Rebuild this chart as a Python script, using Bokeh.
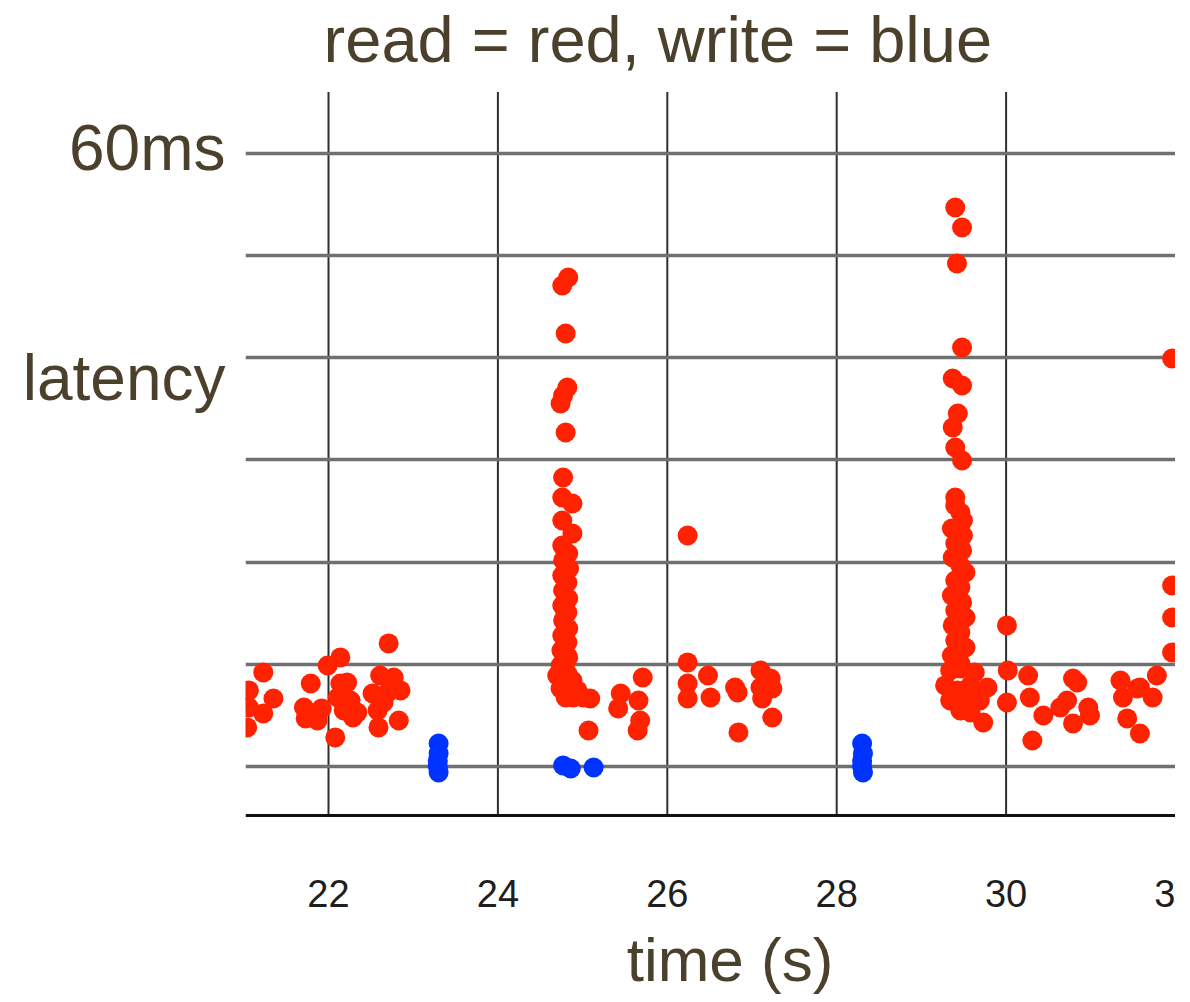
from bokeh.plotting import figure
from bokeh.models import FixedTicker, Range1d, Label
from bokeh.core.properties import value
from bokeh.embed import file_html
from bokeh.resources import INLINE

# ---- data (time in s, latency in ms) ----
read_time = [
    # cluster around 22 s
    21.06, 21.06, 21.04, 21.23, 21.23, 21.35, 21.79, 21.71, 21.73, 21.99,
    22.14, 21.87, 21.92, 22.08, 22.14, 22.22, 22.11, 22.26, 22.18, 22.34,
    22.29, 22.71, 22.61, 22.77, 22.52, 22.85, 22.70, 22.58, 22.59, 22.83,
    22.65,
    # spike near 24.8 s
    24.83, 24.76, 24.80, 24.82, 24.74, 24.77, 24.80, 24.77, 24.76, 24.88,
    24.76, 24.88,
    24.76, 24.83, 24.77, 24.84, 24.76, 24.82, 24.77, 24.83, 24.76, 24.82,
    24.77, 24.83, 24.76, 24.82, 24.75, 24.83, 24.74, 24.82, 24.70, 24.88,
    24.74, 24.94, 24.80, 25.01, 25.09, 24.89, 25.07,
    # after spike 1
    25.71, 25.45, 25.42, 25.66, 25.68, 25.65,
    # cluster around 26-27 s
    26.24, 26.24, 26.24, 26.24, 26.48, 26.51, 26.80, 26.83, 26.84, 27.10,
    27.22, 27.10, 27.24, 27.12, 27.24,
    # spike near 29.4 s
    29.40, 29.48, 29.42, 29.48, 29.37, 29.48, 29.43, 29.37, 29.40, 29.48,
    29.40, 29.49,
    29.40, 29.46, 29.36, 29.49, 29.40, 29.48, 29.37, 29.46, 29.52, 29.40,
    29.46, 29.36, 29.48, 29.40, 29.52, 29.37, 29.46, 29.40, 29.52, 29.36,
    29.46,
    29.34, 29.46, 29.63, 29.28, 29.43, 29.58, 29.78, 29.34, 29.52, 29.69,
    29.46, 29.58, 29.73,
    # after spike 2
    30.01, 30.02, 30.01, 30.26, 30.28, 30.31, 30.44, 30.64, 30.79, 30.84,
    30.72, 30.97, 30.99, 30.79,
    31.35, 31.38, 31.43, 31.58, 31.55, 31.78, 31.73, 31.58,
    31.96, 31.96, 31.96, 31.96,
]
read_latency = [
    7.44, 5.77, 3.82, 9.20, 5.19, 6.65, 8.12, 5.77, 4.70, 9.88,
    10.67, 4.50, 5.68, 2.84, 8.12, 8.22, 6.75, 6.46, 5.48, 5.28,
    4.79, 12.04, 8.90, 8.71, 7.14, 7.44, 7.24, 5.48, 3.82, 4.50,
    6.26,
    47.85, 47.06, 42.37, 37.08, 35.52, 36.30, 32.68, 28.28, 26.32, 25.73,
    24.07, 22.80,
    21.62, 20.84, 20.16, 19.37, 18.69, 18.00, 17.22, 16.44, 15.75, 15.07,
    14.29, 13.50, 12.82, 12.13, 11.35, 10.67, 9.88, 9.10, 8.90, 8.41,
    7.63, 7.44, 6.75, 6.75, 6.65, 6.75, 3.52,
    8.71, 7.14, 5.68, 6.46, 4.50, 3.52,
    22.60, 10.18, 8.12, 6.65, 8.90, 6.75, 7.73, 7.24, 3.33, 9.39,
    8.61, 7.73, 7.63, 6.65, 4.79,
    54.70, 52.74, 49.22, 41.00, 37.96, 37.28, 34.54, 33.17, 31.21, 29.94,
    26.32, 24.07,
    25.54, 24.85, 23.29, 22.60, 21.82, 21.14, 20.45, 19.67, 18.98, 18.20,
    17.51, 16.73, 16.05, 15.26, 14.58, 13.80, 13.11, 12.33, 11.64, 10.86,
    10.08,
    9.39, 9.59, 9.20, 7.93, 7.44, 7.93, 7.73, 6.46, 6.46, 6.46,
    5.48, 5.28, 4.30,
    13.80, 9.39, 6.26, 8.90, 6.75, 2.54, 4.99, 5.77, 8.61, 8.22,
    6.46, 5.77, 4.99, 4.21,
    8.41, 6.75, 4.70, 3.23, 7.63, 8.90, 6.75, 7.73,
    39.92, 17.71, 14.58, 11.15,
]
write_time = [23.30, 23.30, 23.29, 23.29, 23.30,
              24.77, 24.86, 25.13,
              28.30, 28.31, 28.30, 28.30, 28.31]
write_latency = [2.25, 1.27, 0.59, 0.00, -0.59,
                 0.10, -0.20, -0.10,
                 2.25, 1.27, 0.59, 0.00, -0.59]

x_ticks = [22, 24, 26, 28, 30, 32]
x_grid_ticks = [22, 24, 26, 28, 30]
y_grid_ticks = [0, 10, 20, 30, 40, 50, 60]
y_label_ticks = {60.5: "60ms", 38: "latency"}
title_text = "read = red, write = blue"
x_label_text = "time (s)"

TEXT = "#4a402c"
FONT = "Liberation Sans"

# layout bands in data units (frame spans the whole canvas height)
X_MIN, X_MAX = 21.02, 32.0
Y_MIN, Y_MAX = -22.9, 74.95
Y_AXIS, Y_GRID_TOP = -4.8, 66.0
Y_TICK_LABELS = -12.43
Y_TITLE, Y_XLABEL = 71.14, -18.84

p = figure(width=1175, height=1000,
           x_range=Range1d(X_MIN, X_MAX), y_range=Range1d(Y_MIN, Y_MAX),
           output_backend="svg", toolbar_location=None, title=None,
           x_axis_location=None,
           min_border_left=245, min_border_right=0,
           min_border_top=0, min_border_bottom=0)
p.outline_line_color = None
p.background_fill_color = "white"
p.border_fill_color = "white"

# horizontal grid (native)
p.ygrid.ticker = FixedTicker(ticks=y_grid_ticks)
p.ygrid.grid_line_color = "#707070"
p.ygrid.grid_line_width = 3.5
p.xgrid.visible = False

# vertical grid lines between the axis and the top of the plotting area
n = len(x_grid_ticks)
p.segment(x0=x_grid_ticks, y0=[Y_AXIS] * n, x1=x_grid_ticks, y1=[Y_GRID_TOP] * n,
          line_color="#2e2e2e", line_width=2, level="underlay")

# x axis line and tick labels
p.segment(x0=[X_MIN], y0=[Y_AXIS], x1=[X_MAX], y1=[Y_AXIS],
          line_color="#111111", line_width=3)
p.text(x=x_ticks, y=[Y_TICK_LABELS] * len(x_ticks), text=[str(t) for t in x_ticks],
       text_align="center", text_baseline="middle", text_font=value(FONT),
       text_font_size="38px", text_color="#1e1e1e")

# y axis (labels only)
p.yaxis.ticker = FixedTicker(ticks=list(y_label_ticks.keys()))
p.yaxis.major_label_overrides = y_label_ticks
p.yaxis.axis_line_color = None
p.yaxis.major_tick_line_color = None
p.yaxis.minor_tick_line_color = None
p.yaxis.major_tick_out = 0
p.yaxis.major_tick_in = 0
p.yaxis.major_label_standoff = 20
p.yaxis.major_label_text_font = FONT
p.yaxis.major_label_text_font_size = "64px"
p.yaxis.major_label_text_color = TEXT

# points
p.scatter(write_time, write_latency, size=20, fill_color="#0033ff", line_color=None)
p.scatter(read_time, read_latency, size=20, fill_color="#ff2200", line_color=None)

# title and x label
p.add_layout(Label(x=25.888, y=Y_TITLE, text=title_text, text_align="center",
                   text_baseline="alphabetic", text_font=FONT,
                   text_font_size="65px", text_color=TEXT))
p.add_layout(Label(x=26.74, y=Y_XLABEL, text=x_label_text, text_align="center",
                   text_baseline="alphabetic", text_font=FONT,
                   text_font_size="62px", text_color=TEXT))

open("out.html", "w").write(file_html(p, INLINE))
